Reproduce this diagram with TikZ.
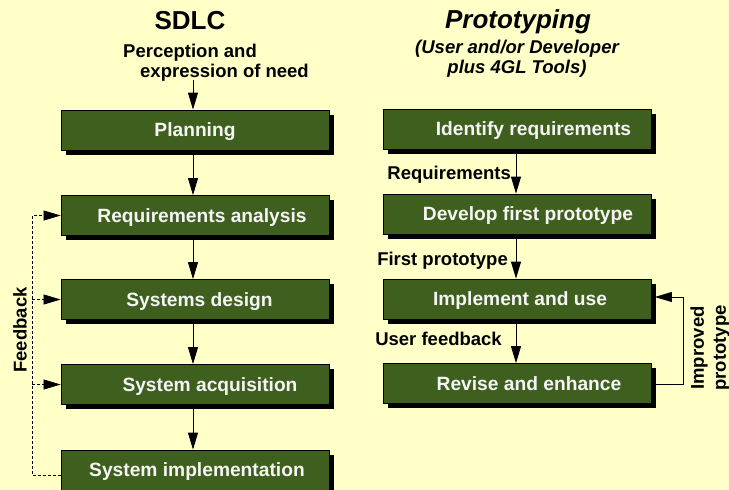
\documentclass[tikz,border=0pt]{standalone}
\usepackage{fontspec}
\setmainfont{Liberation Sans}
\usetikzlibrary{arrows.meta,shadows,calc}
\definecolor{bg}{RGB}{255,255,200}
\definecolor{boxg}{RGB}{63,95,31}
\newcommand\shft[1]{\hspace*{#1pt}}
\begin{document}
\begin{tikzpicture}[x=1pt,y=-1pt,
  stage/.style={draw=black, line width=0.8pt, fill=boxg, minimum width=268pt,
    minimum height=40pt, inner sep=0pt, text=white!96!black,
    font=\fontsize{19.2}{21}\selectfont\bfseries, text height=13.7pt, text depth=0pt,
    drop shadow={shadow xshift=4.5pt, shadow yshift=-4.5pt, fill=black, opacity=1}},
  lbl/.style={font=\fontsize{18.5}{22}\selectfont\bfseries, inner sep=0pt},
  ttl/.style={font=\fontsize{26}{28}\selectfont\bfseries, inner sep=0pt},
  flow/.style={line width=0.8pt, -{Triangle[length=17pt,width=10pt]}},
  fbline/.style={line width=0.7pt, dash pattern=on 3pt off 2pt},
  fbtip/.style={line width=0.7pt, solid, -{Triangle[length=17pt,width=10pt]}},
]
\useasboundingbox (0,0) rectangle (729,490);
\fill[bg] (0,0) rectangle (729,490);

% titles
\node[ttl, anchor=base] (t1) at (190,29) {SDLC};
\node[ttl, anchor=base] (t2) at (518,28) {\itshape Prototyping};
\node[lbl, anchor=base] (s1) at (517,53) {\itshape (User and/or Developer};
\node[lbl, anchor=base] (s2) at (517,73) {\itshape plus 4GL Tools)};
\node[lbl, anchor=base west] (p1) at (123,57) {Perception and};
\node[lbl, anchor=base west] (p2) at (140,77) {expression of need};

% SDLC boxes
\node[stage] (plan) at (195,130) {Planning};
\node[stage] (req) at (195,215.5) {\shft{14}Requirements analysis};
\node[stage] (des) at (195,299.5) {\shft{9}Systems design};
\node[stage] (acq) at (195,384.5) {\shft{30}System acquisition};
\node[stage] (impl) at (195,470) {\shft{4}System implementation};

% prototyping boxes
\node[stage] (ident) at (517.5,129) {\shft{32}Identify requirements};
\node[stage] (dev) at (517.5,214) {\shft{21}Develop first prototype};
\node[stage] (use) at (517.5,299) {\shft{5}Implement and use};
\node[stage] (rev) at (517.5,383.5) {\shft{23}Revise and enhance};

\coordinate (axL) at (193,0);
\coordinate (axR) at (516,0);
\coordinate (fbx) at (32,0);
\coordinate (tipx) at (44,0);
\coordinate (top) at (193,80);
\coordinate (loopx) at (683,0);

% SDLC arrows
\draw[flow] (top) -- (plan.north -| axL);
\draw[flow] (plan.south -| axL) -- (req.north -| axL);
\draw[flow] (req.south -| axL) -- (des.north -| axL);
\draw[flow] (des.south -| axL) -- (acq.north -| axL);
\draw[flow] (acq.south -| axL) -- (impl.north -| axL);

% feedback
\draw[fbline] ($(impl.west)+(0,5)$) -| (req.west -| fbx) -- (req.west -| tipx);
\draw[fbline] (des.west -| fbx) -- (des.west -| tipx);
\draw[fbline] (acq.west -| fbx) -- (acq.west -| tipx);
\draw[fbtip] (req.west -| tipx) -- (req.west);
\draw[fbtip] (des.west -| tipx) -- (des.west);
\draw[fbtip] (acq.west -| tipx) -- (acq.west);
\node[lbl, rotate=90] (fbl) at (20,330) {Feedback};

% prototyping arrows
\draw[flow] (ident.south -| axR) -- (dev.north -| axR);
\draw[flow] (dev.south -| axR) -- (use.north -| axR);
\draw[flow] (use.south -| axR) -- (rev.north -| axR);
\draw[flow] ($(rev.east)+(0,1)$) -| ($(use.east -| loopx)+(0,-2)$) -- ($(use.east)+(3,-2)$);

\node[lbl, anchor=base east] (l1) at (511,179) {Requirements};
\node[lbl, anchor=base east] (l2) at (508,265) {First prototype};
\node[lbl, anchor=base east] (l3) at (502,345) {User feedback};
\node[lbl, rotate=90, align=center] (ip) at (710,348) {Improved\\prototype};
\end{tikzpicture}
\end{document}
